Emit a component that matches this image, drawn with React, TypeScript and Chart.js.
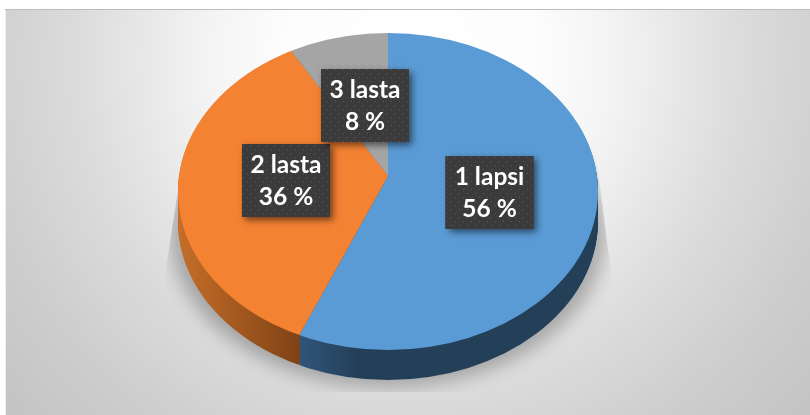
import React, { useEffect, useRef } from "react";
import { Chart, registerables } from "chart.js";

Chart.register(...registerables);

const categories = ["1 lapsi", "2 lasta", "3 lasta"];
const shares = [56, 36, 8];
const topColors = ["#5b9bd5", "#f48233", "#a5a5a5"];

// Drawing layout (not data)
const APEX = { x: 388, y: 176 };
const RIM = { x: 388, y: 191.5, rx: 210, ry: 158.5 };
const DEPTH = 30;
const SQUASH = 0.71;
const BOX = { w: 88, h: 73 };
const boxCenters = [
  { x: 489.5, y: 192.5 },
  { x: 286, y: 180.5 },
  { x: 365, y: 105.5 },
];

function dotted(ctx: CanvasRenderingContext2D) {
  const c = document.createElement("canvas");
  c.width = 8;
  c.height = 8;
  const p = c.getContext("2d")!;
  p.fillStyle = "#3b3b3b";
  p.fillRect(0, 0, 8, 8);
  p.fillStyle = "#5a5a5a";
  p.fillRect(3, 1, 1, 1);
  p.fillRect(7, 5, 1, 1);
  return ctx.createPattern(c, "repeat")!;
}

function ellipsePath(ctx: CanvasRenderingContext2D, dy: number) {
  ctx.beginPath();
  ctx.ellipse(RIM.x, RIM.y + dy, RIM.rx, RIM.ry, 0, 0, Math.PI * 2);
}

function applyPieSpace(ctx: CanvasRenderingContext2D, arc: any, dy: number) {
  const k = 250 / arc.outerRadius;
  ctx.translate(APEX.x, APEX.y + dy);
  ctx.scale(k, k * SQUASH);
  ctx.translate(-arc.x, -arc.y);
  return k;
}

const pie3d = {
  id: "pie3d",
  beforeDraw(chart: any) {
    const { ctx, width, height } = chart;
    ctx.save();
    ctx.fillStyle = "#ffffff";
    ctx.fillRect(0, 0, width, height);
    const g = ctx.createRadialGradient(410, 60, 0, 410, 60, 560);
    g.addColorStop(0, "#ffffff");
    g.addColorStop(0.22, "#fdfdfd");
    g.addColorStop(0.36, "#f4f4f4");
    g.addColorStop(0.59, "#dcdcdc");
    g.addColorStop(0.77, "#cecece");
    g.addColorStop(1, "#c1c1c1");
    ctx.fillStyle = g;
    ctx.fillRect(5, 9, width - 5, height - 9);
    ctx.restore();
    ctx.fillStyle = "#bcbcbc";
    ctx.fillRect(5, 9, width - 5, 1);
    ctx.fillStyle = "#f0f0f0";
    ctx.fillRect(5, 10, 1, height - 10);
  },
  beforeDatasetsDraw(chart: any) {
    const { ctx } = chart;
    const arcs = chart.getDatasetMeta(0).data;

    // soft shadow under the disc, with straight sharp flanks
    ctx.save();
    ctx.beginPath();
    ctx.moveTo(178, 190);
    ctx.lineTo(165, 275);
    ctx.lineTo(165, 392);
    ctx.lineTo(612, 392);
    ctx.lineTo(612, 280);
    ctx.lineTo(595, 147);
    ctx.closePath();
    ctx.clip();
    ctx.shadowColor = "rgba(0,0,0,0.27)";
    ctx.shadowBlur = 18;
    ctx.shadowOffsetX = 1000;
    ctx.fillStyle = "#000";
    ctx.beginPath();
    ctx.ellipse(RIM.x - 1000, 232, 218, 155, 0, 0, Math.PI * 2);
    ctx.fill();
    ctx.restore();

    const first = arcs[0];
    const k = 250 / first.outerRadius;
    const ux = (x: number) => first.x + (x - APEX.x) / k;
    const blue = ctx.createLinearGradient(ux(299), 0, ux(598), 0);
    blue.addColorStop(0, "#30557a");
    blue.addColorStop(0.2, "#243f58");
    blue.addColorStop(1, "#243f58");
    const orange = ctx.createLinearGradient(ux(180), 0, ux(300), 0);
    orange.addColorStop(0, "#c46d28");
    orange.addColorStop(1, "#7f4215");
    const sides = [blue, orange, "#6b6b6b"];

    // wall of the disc: the same arcs stacked downward in darker paint
    for (let dy = DEPTH; dy >= 1; dy--) {
      ctx.save();
      ellipsePath(ctx, dy);
      ctx.clip();
      applyPieSpace(ctx, first, dy);
      arcs.forEach((arc: any, i: number) => {
        const keep = arc.options;
        arc.options = { ...keep, backgroundColor: sides[i], borderColor: sides[i] };
        arc.draw(ctx);
        arc.options = keep;
      });
      ctx.restore();
    }

    // top face: drawn by the library inside this clip and transform
    ctx.save();
    ellipsePath(ctx, 0);
    ctx.clip();
    applyPieSpace(ctx, first, 0);
  },
  afterDatasetsDraw(chart: any) {
    const { ctx } = chart;
    ctx.restore();
    const fill = dotted(ctx);
    categories.forEach((name, i) => {
      const c = boxCenters[i];
      const x = c.x - BOX.w / 2;
      const y = c.y - BOX.h / 2;
      ctx.save();
      ctx.shadowColor = "rgba(0,0,0,0.55)";
      ctx.shadowBlur = 7;
      ctx.shadowOffsetX = 3;
      ctx.shadowOffsetY = 3;
      ctx.fillStyle = "#3b3b3b";
      ctx.fillRect(x, y, BOX.w, BOX.h);
      ctx.restore();
      ctx.fillStyle = fill;
      ctx.fillRect(x, y, BOX.w, BOX.h);
      ctx.fillStyle = "#ffffff";
      ctx.font = 'bold 24.5px Lato, "Open Sans", sans-serif';
      ctx.textAlign = "center";
      ctx.textBaseline = "middle";
      ctx.fillText(name, c.x, c.y - 15.5);
      ctx.fillText(`${shares[i]} %`, c.x, c.y + 17);
    });
  },
};

export default function App() {
  const ref = useRef<HTMLCanvasElement>(null);
  useEffect(() => {
    document.body.style.margin = "0";
    const chart = new Chart(ref.current!, {
      type: "pie",
      data: {
        labels: categories,
        datasets: [
          {
            data: shares,
            backgroundColor: topColors,
            borderWidth: 0,
            clip: false,
          } as any,
        ],
      },
      options: {
        responsive: false,
        animation: false,
        events: [],
        plugins: { legend: { display: false }, tooltip: { enabled: false }, title: { display: false } },
      },
      plugins: [pie3d],
    });
    return () => chart.destroy();
  }, []);
  return (
    <div style={{ position: "fixed", left: 0, top: 0, width: 810, height: 415 }}>
      <canvas ref={ref} width={810} height={415} style={{ display: "block" }} />
    </div>
  );
}
